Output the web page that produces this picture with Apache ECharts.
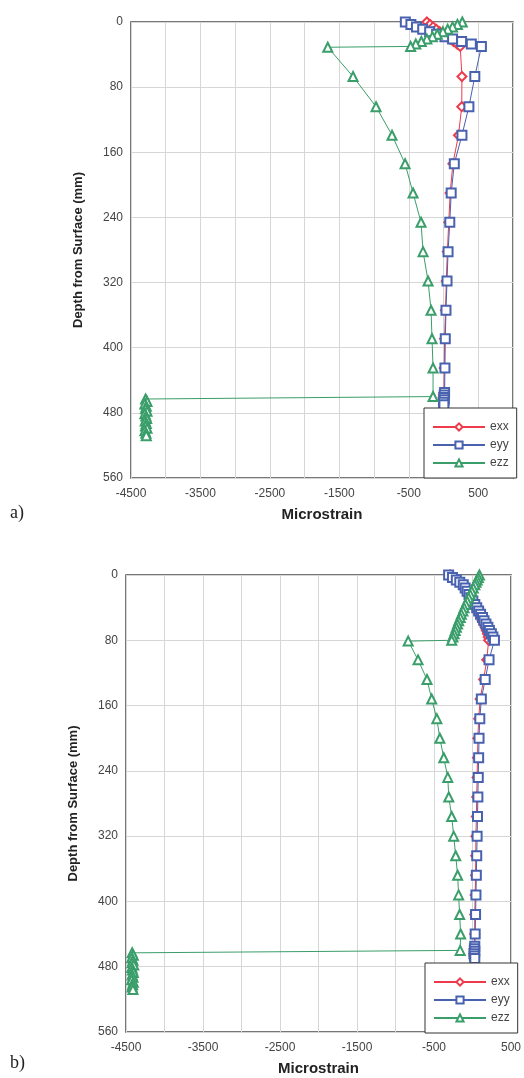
<!DOCTYPE html>
<html>
<head>
<meta charset="utf-8">
<script src="https://cdn.jsdelivr.net/npm/echarts@6/dist/echarts.min.js"></script>
<style>
  html, body { margin: 0; padding: 0; background: #fff; }
  #chart { width: 524px; height: 1078px; }
</style>
</head>
<body>
<div id="chart"></div>
<script>
// Strain profiles against depth, two panels: a) and b)

// Tick labels
const depthTicks = [0, 80, 160, 240, 320, 400, 480, 560];
const strainTicks = [-4500, -3500, -2500, -1500, -500, 500];

// Panel a) — exx and eyy are read at the same depths (mm)
const aDepthXY = [0, 3, 6, 9, 12, 15, 18, 21, 24, 27, 30,
                  67, 104, 139, 174, 210, 246, 282, 318, 354, 389, 425,
                  455, 458, 461, 464, 467, 470];
const aExx = [-240, -195, -150, -105, -55, -5, 45, 95, 145, 195, 240,
              265, 262, 215, 135, 95, 75, 55, 40, 28, 15, 10,
              5, 0, -5, 0, 5, 0];
const aEyy = [-550, -470, -390, -300, -200, -100, 20, 130, 260, 400, 545,
              450, 365, 265, 155, 110, 90, 65, 50, 35, 25, 20,
              15, 10, 5, 10, 0, 5];
// Panel a) — ezz
const aDepthZ = [0, 3, 6, 9, 12, 15, 18, 21, 24, 27, 30, 31,
                 67, 104, 139, 174, 210, 246, 282, 318, 354, 389, 425, 460,
                 463, 466, 469, 472, 475, 478, 481, 484, 487, 490, 493, 496, 499, 502, 505, 508];
const aEzz = [270, 200, 130, 60, -10, -90, -160, -240, -320, -400, -474, -1667,
              -1303, -972, -742, -554, -439, -324, -295, -223, -180, -166, -151, -151,
              -4290, -4270, -4300, -4280, -4290, -4270, -4300, -4285, -4275, -4295, -4280, -4290, -4270, -4300, -4285, -4280];

// Panel b) — exx and eyy
const bDepthXY = [0, 3, 6, 9, 12, 16, 20, 24, 28, 32, 36, 40, 44, 48, 52, 56, 60, 64, 68, 72, 76, 80,
                  104, 128, 152, 176, 200, 224, 248, 272, 296, 320, 344, 368, 392, 416, 440,
                  455, 458, 461, 464, 467, 470];
const bExx = [-290, -245, -200, -160, -120, -95, -72, -50, -28, -5, 18, 40, 62, 85, 105, 125, 145, 165, 180, 195, 205, 210,
              185, 145, 100, 80, 70, 65, 60, 55, 50, 45, 42, 40, 35, 30, 28,
              25, 20, 25, 15, 20, 25];
const bEyy = [-310, -260, -210, -165, -120, -95, -70, -45, -20, 5, 30, 55, 80, 105, 130, 150, 175, 200, 220, 245, 265, 285,
              215, 165, 115, 95, 85, 80, 75, 70, 65, 60, 55, 50, 45, 40, 35,
              30, 25, 30, 20, 25, 30];
// Panel b) — ezz
const bDepthZ = [0, 3, 6, 9, 12, 16, 20, 24, 28, 32, 36, 40, 44, 48, 52, 56, 60, 64, 68, 72, 76, 80, 81,
                 104, 128, 152, 176, 200, 224, 248, 272, 296, 320, 344, 368, 392, 416, 440, 460,
                 463, 466, 469, 472, 475, 478, 481, 484, 487, 490, 493, 496, 499, 502, 505, 508];
const bEzz = [90, 75, 60, 45, 30, 10, -10, -30, -50, -70, -90, -110, -125, -145, -160, -180, -195, -210, -225, -240, -255, -270, -835,
              -707, -591, -530, -463, -424, -373, -321, -308, -270, -244, -218, -193, -180, -167, -154, -160,
              -4420, -4405, -4425, -4410, -4420, -4400, -4425, -4415, -4405, -4420, -4410, -4425, -4405, -4415, -4420, -4410];

const RED = '#ee3b4b';
const BLUE = '#4862b0';
const GREEN = '#3a9e6a';
const FONT = 'Liberation Sans, Arial, sans-serif';

function pairs(values, depths) {
  return values.map((v, i) => [v, depths[i]]);
}

function strainAxis(gridIndex, max) {
  return {
    gridIndex, type: 'value', min: -4500, max, interval: 500,
    axisLine: { show: false }, axisTick: { show: false },
    axisLabel: {
      color: '#444', fontSize: 12, fontFamily: FONT, margin: 10,
      formatter: v => (strainTicks.indexOf(v) >= 0 ? String(v) : '')
    },
    splitLine: { show: true, lineStyle: { color: '#d6d6d6', width: 1 } },
    name: 'Microstrain', nameLocation: 'middle', nameGap: 29,
    nameTextStyle: { fontWeight: 'bold', fontSize: 15, color: '#222', fontFamily: FONT }
  };
}

function depthAxis(gridIndex) {
  return {
    gridIndex, type: 'value', inverse: true, min: 0, max: 560, interval: 80,
    axisLine: { show: false }, axisTick: { show: false },
    axisLabel: {
      color: '#444', fontSize: 12, fontFamily: FONT, margin: 8,
      formatter: v => (depthTicks.indexOf(v) >= 0 ? String(v) : '')
    },
    splitLine: { show: true, lineStyle: { color: '#d6d6d6', width: 1 } },
    name: 'Depth from Surface (mm)', nameLocation: 'middle', nameGap: 46,
    nameTextStyle: { fontWeight: 'bold', fontSize: 13, color: '#222', fontFamily: FONT }
  };
}

function strainSeries(name, values, depths, idx, symbol, color) {
  return {
    name, type: 'line', xAxisIndex: idx, yAxisIndex: idx,
    data: pairs(values, depths),
    symbol, symbolSize: 9, clip: false,
    lineStyle: { width: 1, color },
    itemStyle: { color, borderColor: color, borderWidth: 1 },
    emphasis: { disabled: true }
  };
}

function legendAt(left, top) {
  return {
    left, top, orient: 'vertical', selectedMode: false,
    data: ['exx', 'eyy', 'ezz'],
    backgroundColor: '#fff', borderColor: '#333', borderWidth: 1,
    padding: [13, 8, 9, 8], itemWidth: 52, itemHeight: 9, itemGap: 6,
    textStyle: { fontSize: 12, color: '#444', lineHeight: 12, fontFamily: FONT }
  };
}

const chart = echarts.init(document.getElementById('chart'), null, { renderer: 'canvas' });
chart.setOption({
  animation: false,
  backgroundColor: '#fff',
  textStyle: { fontFamily: FONT },
  grid: [
    { left: 131, top: 22, width: 382, height: 456, show: true, borderColor: '#4a4a4a', borderWidth: 1.5, backgroundColor: '#fff' },
    { left: 126, top: 575, width: 388, height: 457, show: true, borderColor: '#4a4a4a', borderWidth: 1.5, backgroundColor: '#fff' }
  ],
  xAxis: [strainAxis(0, 1000), strainAxis(1, 500)],
  yAxis: [depthAxis(0), depthAxis(1)],
  legend: [legendAt(424, 408), legendAt(425, 963)],
  series: [
    strainSeries('exx', aExx, aDepthXY, 0, 'emptyDiamond', RED),
    strainSeries('eyy', aEyy, aDepthXY, 0, 'emptyRect', BLUE),
    strainSeries('ezz', aEzz, aDepthZ, 0, 'emptyTriangle', GREEN),
    strainSeries('exx', bExx, bDepthXY, 1, 'emptyDiamond', RED),
    strainSeries('eyy', bEyy, bDepthXY, 1, 'emptyRect', BLUE),
    strainSeries('ezz', bEzz, bDepthZ, 1, 'emptyTriangle', GREEN)
  ],
  graphic: [
    { type: 'text', left: 10, top: 504, style: { text: 'a)', fontSize: 18, fontFamily: 'Liberation Serif, DejaVu Serif, serif', fill: '#222' } },
    { type: 'text', left: 10, top: 1054, style: { text: 'b)', fontSize: 18, fontFamily: 'Liberation Serif, DejaVu Serif, serif', fill: '#222' } }
  ]
});
</script>
</body>
</html>
